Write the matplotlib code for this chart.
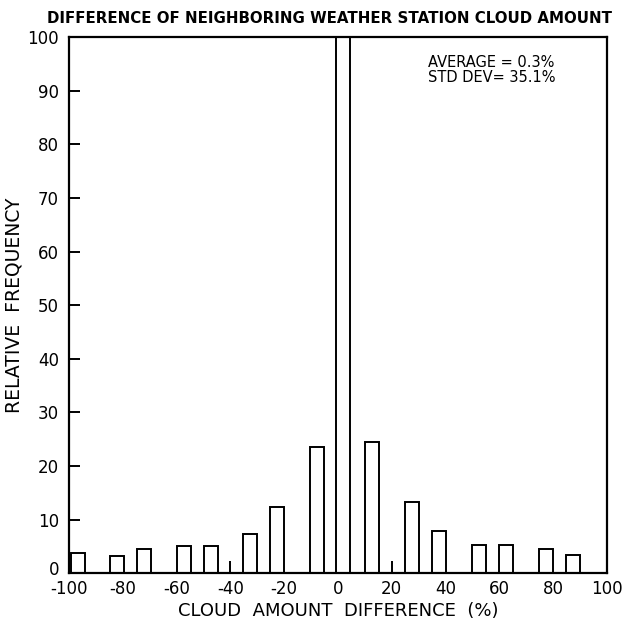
import matplotlib
matplotlib.use('Agg')
import matplotlib.pyplot as plt
import matplotlib.transforms as mtransforms

# left edges of the histogram bars and their heights (relative frequency)
bar_left = [-99.3, -84.8, -74.6, -59.7, -49.8, -35.2, -25.3, -10.2, -0.5,
            10.0, 25.0, 35.0, 50.0, 60.0, 74.7, 84.8]
bar_height = [3.7, 3.2, 4.6, 5.0, 5.1, 7.3, 12.4, 23.6, 110.0,
              24.5, 13.3, 7.8, 5.2, 5.35, 4.5, 3.4]
# two thin spikes
spike_x = [-40.0, 20.0]
spike_h = [2.3, 2.2]

x_ticks = [-100, -80, -60, -40, -20, 0, 20, 40, 60, 80, 100]
y_ticks = [0, 10, 20, 30, 40, 50, 60, 70, 80, 90, 100]

plt.rcParams['font.family'] = ['DejaVu Sans']

fig = plt.figure(figsize=(6.25, 6.21), dpi=100)
ax = fig.add_axes([0.110, 0.077, 0.861, 0.863])

ax.bar(bar_left, bar_height, width=5.2, align='edge', facecolor='white',
       edgecolor='black', linewidth=1.4)
ax.vlines(spike_x, 0, spike_h, color='black', linewidth=1.4)

ax.set_xlim(-100, 100)
ax.set_ylim(0, 100)
ax.set_xticks(x_ticks)
ax.set_xticklabels([str(t) for t in x_ticks])
ax.set_yticks(y_ticks)
ax.tick_params(axis='x', length=0, pad=5, labelsize=12)
ax.tick_params(axis='y', direction='in', length=8, width=1.4, pad=7, labelsize=12)
for s in ax.spines.values():
    s.set_linewidth(1.6)

# the "0" on the y axis sits a little above the corner, clear of "-100"
zero_lab = ax.get_yticklabels()[0]
zero_lab.set_transform(zero_lab.get_transform() +
                       mtransforms.ScaledTranslation(0, 4 / 72, fig.dpi_scale_trans))

ax.set_xlabel('CLOUD  AMOUNT  DIFFERENCE  (%)', fontsize=13, labelpad=3)
ax.set_ylabel('RELATIVE  FREQUENCY', fontsize=13.5, labelpad=3)
ax.set_title('DIFFERENCE OF NEIGHBORING WEATHER STATION CLOUD AMOUNT',
             fontsize=10.8, fontweight='bold', pad=10, x=0.485)

ax.text(33.5, 95.3, 'AVERAGE = 0.3%', fontsize=10.5, ha='left', va='center')
ax.text(33.5, 92.5, 'STD DEV= 35.1%', fontsize=10.5, ha='left', va='center')

fig.savefig('out.png', dpi=100)
